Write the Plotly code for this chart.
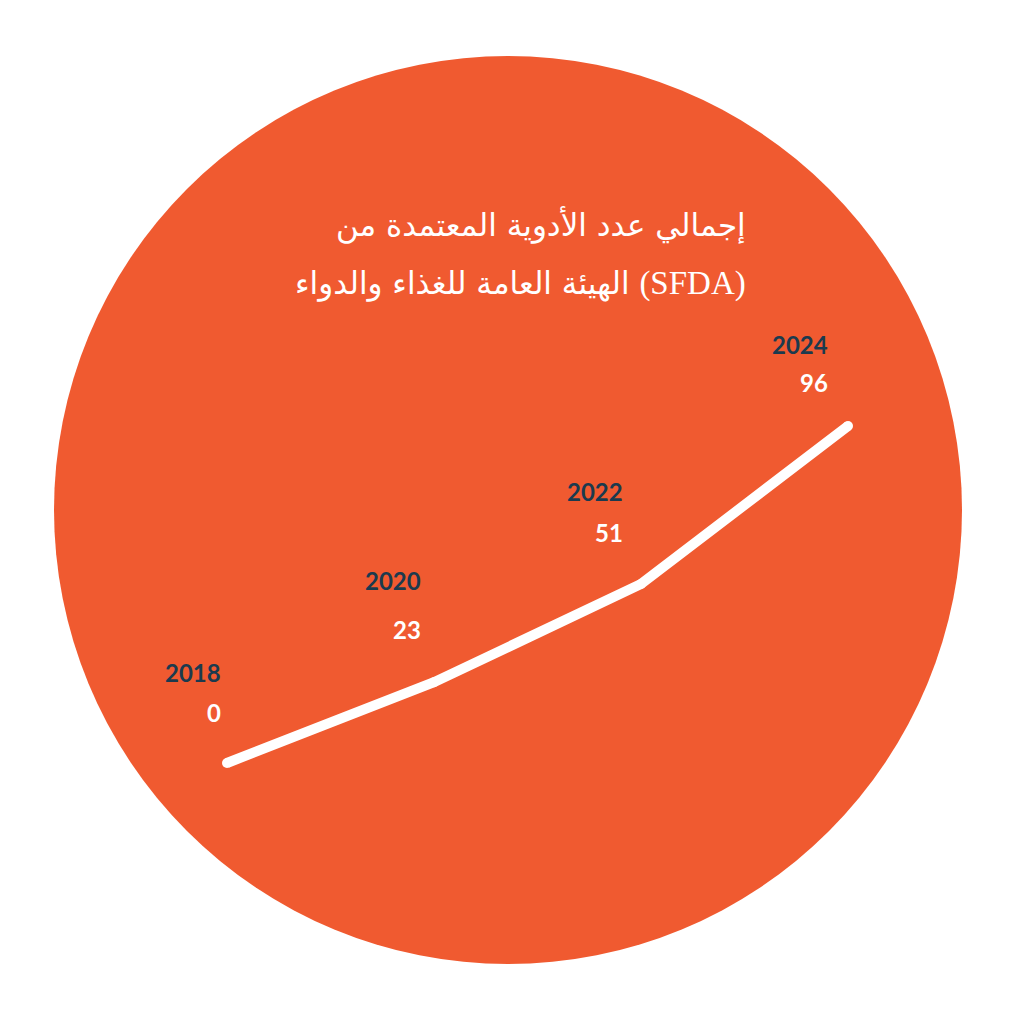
import plotly.graph_objects as go

years = [2018, 2020, 2022, 2024]
values = [0, 23, 51, 96]
year_labels = ["2018", "2020", "2022", "2024"]
value_labels = ["0", "23", "51", "96"]
title_line1 = "إجمالي عدد الأدوية المعتمدة من"
title_line2_ar = "الهيئة العامة للغذاء والدواء"
title_line2_abbr = "(SFDA)"

ORANGE = "#f05a30"
NAVY = "#1b3a4e"
OFF = 8  # page body margin in pixels

# label offsets (pixels) relative to each point
xshifts = [-4, -11, -16, -18]
year_yshifts = [91, 102, 92, 82]
value_yshifts = [51, 53, 51, 44]

fig = go.Figure()
fig.add_trace(go.Scatter(
    x=years, y=values, mode="lines+markers",
    line=dict(color="white", width=10),
    marker=dict(color="white", size=10),
    hoverinfo="skip", showlegend=False,
))

for i in range(len(years)):
    fig.add_annotation(x=years[i], y=values[i], text=year_labels[i],
                       showarrow=False, xanchor="right", yanchor="middle",
                       xshift=xshifts[i], yshift=year_yshifts[i],
                       font=dict(family="Lato", size=24, color=NAVY, weight="bold"))
    fig.add_annotation(x=years[i], y=values[i], text=value_labels[i],
                       showarrow=False, xanchor="right", yanchor="middle",
                       xshift=xshifts[i], yshift=value_yshifts[i],
                       font=dict(family="Lato", size=24, color="white", weight="bold"))

fig.add_annotation(xref="paper", yref="paper", x=(748 - OFF)/1024, y=1-(225 - OFF)/1024,
                   text=title_line1, showarrow=False, xanchor="right", yanchor="middle",
                   font=dict(family="DejaVu Sans", size=31, color="white"))
fig.add_annotation(xref="paper", yref="paper", x=(748 - OFF)/1024, y=1-(283 - OFF)/1024,
                   text=title_line2_ar + " <span style='font-family:Liberation Serif;font-size:33px'>" + title_line2_abbr + "</span>",
                   showarrow=False, xanchor="right", yanchor="middle",
                   font=dict(family="DejaVu Sans", size=31, color="white"))

fig.add_shape(type="circle", xref="paper", yref="paper",
              x0=(54 - OFF)/1024, x1=(962 - OFF)/1024,
              y0=1-(964 - OFF)/1024, y1=1-(56 - OFF)/1024,
              fillcolor=ORANGE, line=dict(width=0), layer="below")

fig.update_layout(
    width=1024, height=1024,
    margin=dict(l=0, r=0, t=0, b=0),
    paper_bgcolor="white", plot_bgcolor="rgba(0,0,0,0)",
    xaxis=dict(range=[2015.884, 2025.778], visible=False, fixedrange=True),
    yaxis=dict(range=[-76.64, 215.1], visible=False, fixedrange=True),
    showlegend=False,
)

fig.write_html("out.html")
